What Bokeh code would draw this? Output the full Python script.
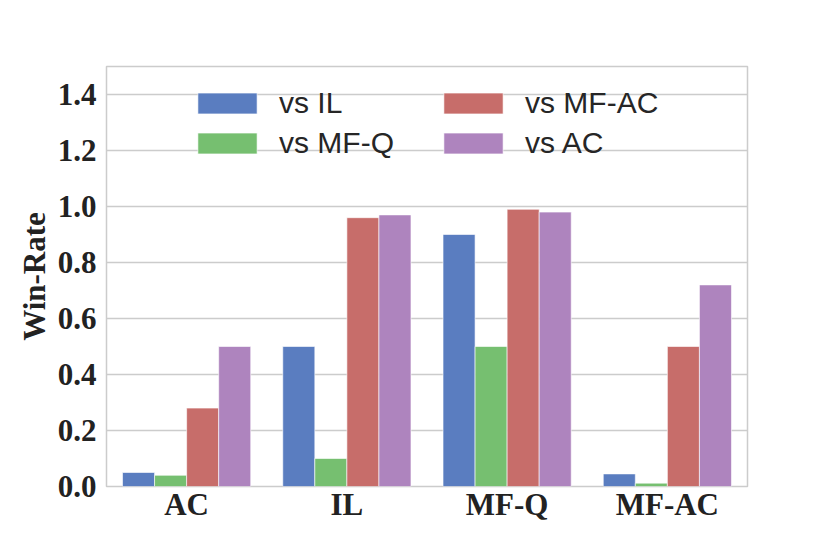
from bokeh.plotting import figure
from bokeh.models import (ColumnDataSource, FactorRange, Range1d, FixedTicker,
                          NumeralTickFormatter, Legend, LegendItem)
from bokeh.transform import dodge
from bokeh.embed import file_html
from bokeh.resources import INLINE

categories = ["AC", "IL", "MF-Q", "MF-AC"]
series_names = ["vs IL", "vs MF-Q", "vs MF-AC", "vs AC"]
vs_il = [0.05, 0.50, 0.90, 0.045]
vs_mfq = [0.04, 0.10, 0.50, 0.012]
vs_mfac = [0.28, 0.96, 0.99, 0.50]
vs_ac = [0.50, 0.97, 0.98, 0.72]
y_ticks = [0.0, 0.2, 0.4, 0.6, 0.8, 1.0, 1.2, 1.4]

colors = ["#5A7DC0", "#76BF70", "#C76D6A", "#AE84BE"]
offsets = [-0.3, -0.1, 0.1, 0.3]

source = ColumnDataSource(dict(cat=categories, s0=vs_il, s1=vs_mfq, s2=vs_mfac, s3=vs_ac))

p = figure(x_range=FactorRange(*categories), y_range=Range1d(0, 1.5),
           width=822, height=546, output_backend="svg", toolbar_location=None,
           min_border_left=106, min_border_right=75, min_border_top=66, min_border_bottom=60)

renderers = []
for i, key in enumerate(["s0", "s1", "s2", "s3"]):
    r = p.vbar(x=dodge("cat", offsets[i], range=p.x_range), top=key, width=0.2,
               source=source, fill_color=colors[i], line_color="white", line_width=0.6)
    renderers.append(r)

p.outline_line_color = "#cccccc"
p.outline_line_width = 1.5
p.xgrid.visible = False
p.ygrid.grid_line_color = "#cccccc"
p.ygrid.grid_line_width = 1.3
p.yaxis.ticker = FixedTicker(ticks=y_ticks)
p.yaxis.formatter = NumeralTickFormatter(format="0.0")

for ax in (p.xaxis, p.yaxis):
    ax.axis_line_color = None
    ax.major_tick_line_color = None
    ax.minor_tick_line_color = None
    ax.major_tick_in = 0
    ax.major_tick_out = 0
    ax.major_label_text_font = "Liberation Serif"
    ax.major_label_text_font_style = "bold"
    ax.major_label_text_font_size = "31px"
    ax.major_label_text_color = "#222222"

p.xaxis.major_label_standoff = 0
p.yaxis.major_label_standoff = 10
p.yaxis.axis_label = "Win-Rate"
p.yaxis.axis_label_text_font = "Liberation Serif"
p.yaxis.axis_label_text_font_style = "bold"
p.yaxis.axis_label_text_font_size = "31px"
p.yaxis.axis_label_text_color = "#222222"
p.yaxis.axis_label_standoff = 3

def make_legend(items, loc):
    lg = Legend(items=items, location=loc, orientation="vertical",
                glyph_width=74, glyph_height=26, label_standoff=15, spacing=6,
                padding=0, margin=0, border_line_color=None, background_fill_alpha=0,
                label_text_font="Liberation Sans", label_text_font_size="30px",
                label_text_color="#262626", label_height=26)
    return lg

lg1 = make_legend([LegendItem(label=series_names[0], renderers=[renderers[0]]),
                   LegendItem(label=series_names[1], renderers=[renderers[1]])], (84, 326))
lg2 = make_legend([LegendItem(label=series_names[2], renderers=[renderers[2]]),
                   LegendItem(label=series_names[3], renderers=[renderers[3]])], (330, 326))
p.add_layout(lg1, "center")
p.add_layout(lg2, "center")

open("out.html", "w").write(file_html(p, INLINE))
